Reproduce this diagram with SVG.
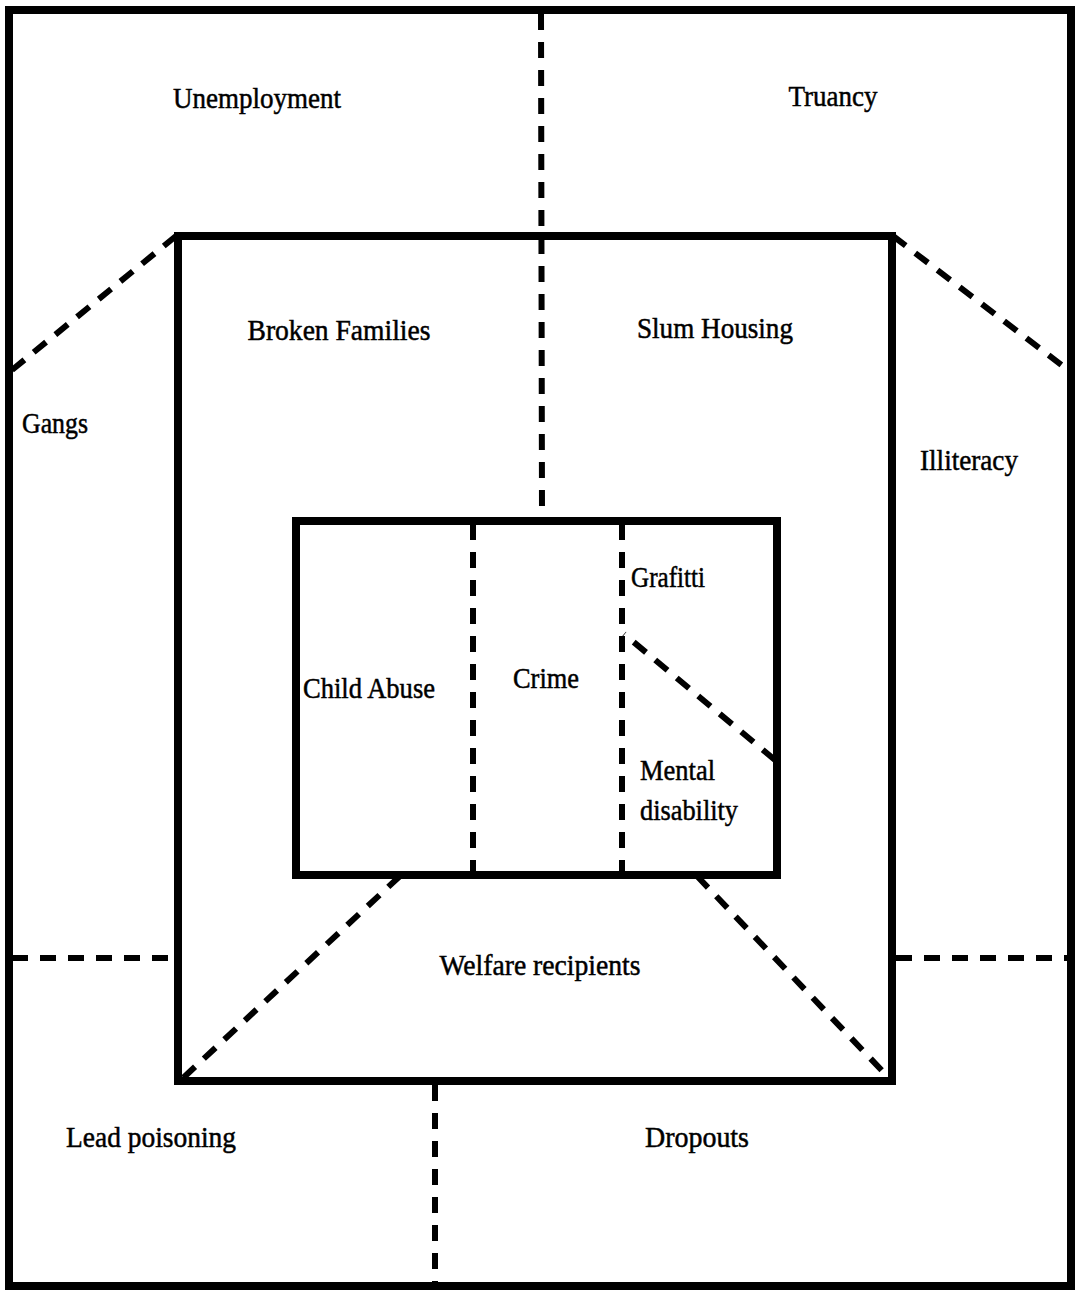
<svg xmlns="http://www.w3.org/2000/svg" width="1077" height="1290" viewBox="0 0 1077 1290">
<style>
.box{fill:none;stroke:#000;stroke-width:8;stroke-linejoin:miter}
.dash{fill:none;stroke:#000;stroke-width:6;stroke-dasharray:16 12}
text{font-family:"Liberation Serif","Times New Roman",serif;font-size:30px;fill:#000;stroke:#000;stroke-width:0.5}
.c{text-anchor:middle}
</style>
<rect width="1077" height="1290" fill="#fff"/>
<g id="connectors">
<line class="dash" x1="541" y1="14" x2="542" y2="517"/>
<line class="dash" x1="12" y1="370" x2="176" y2="236"/>
<line class="dash" x1="893" y1="236" x2="1068" y2="370"/>
<line class="dash" x1="12" y1="958" x2="176" y2="958"/>
<line class="dash" x1="896" y1="958" x2="1068" y2="958"/>
<line class="dash" x1="435" y1="1085" x2="435" y2="1282"/>
<line class="dash" x1="400" y1="876" x2="183" y2="1078"/>
<line class="dash" x1="697" y1="876" x2="889" y2="1078"/>
<line class="dash" x1="473" y1="524" x2="473" y2="872"/>
<line class="dash" x1="622" y1="524" x2="622" y2="872"/>
<line class="dash" x1="775" y1="760" x2="624" y2="634" stroke-dasharray="17 11"/>
</g>
<g id="outer"><rect class="box" x="9" y="10" width="1062" height="1276"/></g>
<g id="middle"><rect class="box" x="178" y="236" width="714" height="845"/></g>
<g id="inner"><rect class="box" x="296" y="521" width="481" height="354"/></g>
<g id="unemployment"><text class="c" x="257" y="108" textLength="168" lengthAdjust="spacingAndGlyphs">Unemployment</text></g>
<g id="truancy"><text class="c" x="833" y="106" textLength="89" lengthAdjust="spacingAndGlyphs">Truancy</text></g>
<g id="broken-families"><text class="c" x="339" y="340" textLength="183" lengthAdjust="spacingAndGlyphs">Broken Families</text></g>
<g id="slum-housing"><text class="c" x="715" y="338" textLength="156" lengthAdjust="spacingAndGlyphs">Slum Housing</text></g>
<g id="gangs"><text class="c" x="55" y="433" textLength="66" lengthAdjust="spacingAndGlyphs">Gangs</text></g>
<g id="illiteracy"><text class="c" x="969" y="470" textLength="98" lengthAdjust="spacingAndGlyphs">Illiteracy</text></g>
<g id="grafitti"><text x="631" y="587" textLength="74" lengthAdjust="spacingAndGlyphs">Grafitti</text></g>
<g id="child-abuse"><text class="c" x="369" y="698" textLength="132" lengthAdjust="spacingAndGlyphs">Child Abuse</text></g>
<g id="crime"><text class="c" x="546" y="688" textLength="66" lengthAdjust="spacingAndGlyphs">Crime</text></g>
<g id="mental-disability"><text x="640" y="780" textLength="75" lengthAdjust="spacingAndGlyphs">Mental</text><text x="640" y="820" textLength="98" lengthAdjust="spacingAndGlyphs">disability</text></g>
<g id="welfare-recipients"><text class="c" x="540" y="975" textLength="201" lengthAdjust="spacingAndGlyphs">Welfare recipients</text></g>
<g id="lead-poisoning"><text class="c" x="151" y="1147" textLength="170" lengthAdjust="spacingAndGlyphs">Lead poisoning</text></g>
<g id="dropouts"><text class="c" x="697" y="1147" textLength="104" lengthAdjust="spacingAndGlyphs">Dropouts</text></g>
</svg>
